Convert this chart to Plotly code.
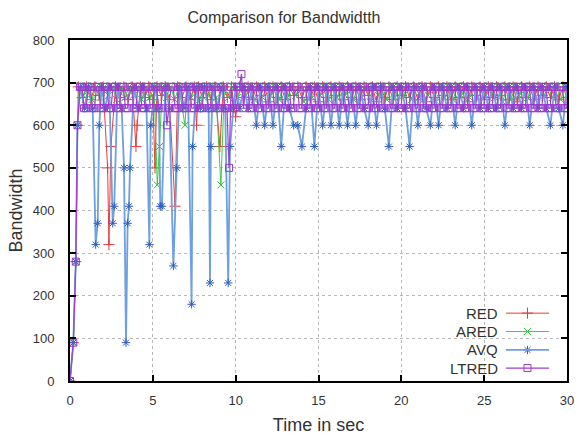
import plotly.graph_objects as go

# ---------------- data: bandwidth samples per queue discipline ----------------
# start-up phase (irregular sample times) followed by steady state on a fixed clock

RED_T_START = [0, 0.2, 0.35, 0.45, 0.5, 0.75, 1.0, 1.25, 1.5, 1.75, 2.0, 2.27, 2.35, 2.47,
               2.75, 3.0, 3.25, 3.5, 3.75, 3.98, 4.05, 4.25, 4.5, 4.75, 5.0, 5.13, 5.25,
               5.5, 5.75, 6.0, 6.34, 6.5, 6.75, 7.0, 7.25, 7.5, 7.64, 7.75, 8.0, 8.25,
               8.5, 8.75, 9.05, 9.25, 9.5, 9.75]
RED_V_START = [0, 90, 280, 600, 690, 665, 690, 660, 690, 670, 690, 500, 320, 550,
               690, 665, 690, 660, 690, 550, 600, 690, 665, 690, 660, 500, 690,
               670, 690, 660, 410, 690, 665, 690, 660, 690, 600, 690, 665, 690,
               660, 690, 550, 690, 665, 690]
RED_V_STEADY = [620, 690, 665, 690, 660, 690, 670, 690, 655, 690,
                665, 690, 660, 690, 670, 690, 665, 690, 660, 690,
                655, 690, 665, 690, 670, 690, 660, 690, 665, 690,
                660, 690, 670, 690, 655, 690, 665, 690, 660, 690,
                670, 690, 665, 690, 660, 690, 655, 690, 665, 690,
                670, 690, 660, 690, 665, 690, 655, 690, 670, 690,
                660, 690, 665, 690, 670, 690, 660, 690, 655, 690,
                665, 690, 660, 690, 670, 690, 665, 690, 660, 690,
                665]

ARED_T_START = [0, 0.2, 0.35, 0.45, 0.57, 0.82, 1.07, 1.32, 1.57, 1.82, 2.07, 2.32, 2.57,
                2.82, 3.07, 3.32, 3.57, 3.82, 4.07, 4.32, 4.57, 4.82, 5.07, 5.27, 5.4,
                5.57, 5.82, 6.07, 6.32, 6.57, 6.94, 7.07, 7.32, 7.57, 7.82, 8.07, 8.32,
                8.57, 8.82, 9.11, 9.32, 9.57, 9.82]
ARED_V_START = [0, 90, 280, 600, 690, 670, 690, 660, 690, 665, 690, 670, 690,
                660, 690, 665, 690, 670, 690, 660, 690, 665, 690, 460, 550,
                690, 665, 690, 660, 690, 600, 690, 665, 690, 660, 690, 670,
                690, 665, 460, 690, 665, 690]
ARED_V_STEADY = [665, 690, 670, 690, 660, 690, 665, 690, 670, 690,
                 660, 690, 665, 690, 670, 690, 655, 690, 665, 690,
                 670, 690, 660, 690, 665, 690, 670, 690, 660, 690,
                 665, 690, 655, 690, 670, 690, 660, 690, 665, 690,
                 670, 690, 660, 690, 665, 690, 670, 690, 655, 690,
                 665, 690, 660, 690, 670, 690, 665, 690, 660, 690,
                 670, 690, 665, 690, 655, 690, 660, 690, 670, 690,
                 665, 690, 660, 690, 670, 690, 665, 690, 660, 690,
                 670]

AVQ_T_START = [0, 0.2, 0.35, 0.45, 0.62, 0.87, 1.12, 1.37, 1.55, 1.67, 1.77, 1.9, 2.12,
               2.37, 2.58, 2.67, 2.87, 3.12, 3.26, 3.38, 3.48, 3.56, 3.62, 3.87, 4.12,
               4.37, 4.62, 4.79, 4.87, 5.12, 5.37, 5.45, 5.55, 5.75, 6.0, 6.24, 6.44,
               6.62, 6.87, 7.12, 7.34, 7.4, 7.62, 7.87, 8.12, 8.37, 8.45, 8.5, 8.62,
               8.87, 9.12, 9.37, 9.55, 9.66, 9.87]
AVQ_V_START = [0, 90, 280, 600, 690, 640, 690, 640, 320, 370, 600, 690, 640,
               690, 370, 410, 690, 640, 500, 90, 370, 410, 500, 690, 640,
               690, 640, 320, 600, 690, 640, 410, 410, 690, 640, 270, 500,
               690, 640, 690, 180, 550, 690, 640, 690, 640, 230, 550, 690,
               640, 690, 640, 230, 550, 640]
AVQ_V_STEADY = [690, 640, 690, 640, 690, 600, 690, 600, 690, 600,
                690, 550, 690, 640, 600, 600, 550, 640, 690, 550,
                690, 600, 690, 600, 690, 600, 690, 600, 690, 600,
                690, 640, 600, 690, 600, 690, 640, 550, 690, 640,
                690, 640, 550, 690, 600, 690, 640, 600, 690, 600,
                690, 640, 690, 600, 690, 640, 690, 600, 690, 640,
                690, 640, 690, 640, 690, 600, 690, 640, 690, 640,
                690, 600, 690, 640, 690, 640, 600, 690, 640, 600,
                690]

LTRED_T_START = [0, 0.2, 0.35, 0.45]
LTRED_V_START = [0, 90, 280, 600]
LTRED_V_STEADY = [
    690, 690, 640, 640, 690, 690, 640, 640, 690, 690, 640, 640, 690, 690, 640, 640,
    690, 690, 640, 640, 690, 690, 640, 640, 690, 690, 640, 640, 690, 690, 640, 640,
    690, 690, 640, 640, 690, 690, 640, 640, 690, 690, 600, 640, 690, 690, 640, 640,
    690, 690, 640, 640, 690, 690, 640, 640, 690, 690, 640, 640, 690, 690, 640, 640,
    690, 690, 640, 640, 690, 690, 640, 640, 500, 690, 640, 640, 690, 690, 720, 640,
    690, 690, 640, 640, 690, 690, 640, 640, 690, 690, 640, 640, 690, 690, 640, 640,
    690, 690, 640, 640, 690, 690, 640, 640, 690, 690, 640, 640, 690, 690, 640, 640,
    690, 690, 640, 640, 690, 690, 640, 640, 690, 690, 640, 640, 690, 690, 640, 640,
    690, 690, 640, 640, 690, 690, 640, 640, 690, 690, 640, 640, 690, 690, 640, 640,
    690, 690, 640, 640, 690, 690, 640, 640, 690, 690, 640, 640, 690, 690, 640, 640,
    690, 690, 640, 640, 690, 690, 640, 640, 690, 690, 640, 640, 690, 690, 640, 640,
    690, 690, 640, 640, 690, 690, 640, 640, 690, 690, 640, 640, 690, 690, 640, 640,
    690, 690, 640, 640, 690, 690, 640, 640, 690, 690, 640, 640, 690, 690, 640, 640,
    690, 690, 640, 640, 690, 690, 640, 640, 690, 690, 640, 640, 690, 690, 640, 640,
    690, 690, 640, 640, 690, 690, 640, 640, 690, 690, 640, 640, 690,
]

# steady-state sampling clocks (each source with its own period and phase)
RED_T_STEADY = [round(10.0 + 0.25 * k, 3) for k in range(len(RED_V_STEADY))]
ARED_T_STEADY = [round(10.12 + 0.25 * k, 3) for k in range(len(ARED_V_STEADY))]
AVQ_T_STEADY = [round(10.0 + 0.25 * k, 3) for k in range(len(AVQ_V_STEADY))]
LTRED_T_STEADY = [round(0.6 + 0.125 * k, 3) for k in range(len(LTRED_V_STEADY))]

SERIES = ["RED", "ARED", "AVQ", "LTRED"]
X_TICKS = [0, 5, 10, 15, 20, 25, 30]
Y_TICKS = [0, 100, 200, 300, 400, 500, 600, 700, 800]

data = {
    "RED": (RED_T_START + RED_T_STEADY, RED_V_START + RED_V_STEADY),
    "ARED": (ARED_T_START + ARED_T_STEADY, ARED_V_START + ARED_V_STEADY),
    "AVQ": (AVQ_T_START + AVQ_T_STEADY, AVQ_V_START + AVQ_V_STEADY),
    "LTRED": (LTRED_T_START + LTRED_T_STEADY, LTRED_V_START + LTRED_V_STEADY),
}
for name, (t, v) in data.items():
    assert len(t) == len(v), name

style = {
    "RED": dict(line="#ee3a3a", mline="#ee3a3a", symbol="cross-thin", lw=1.0, size=8),
    "ARED": dict(line="#3ccc3c", mline="#2fbf2f", symbol="x-thin", lw=1.0, size=7),
    "AVQ": dict(line="#6e9fe0", mline="#2f5fbf", symbol="asterisk", lw=1.8, size=7),
    "LTRED": dict(line="#a03fd0", mline="#9a36cc", symbol="square-open", lw=1.2, size=7),
}

FONT = "Liberation Sans, Arial, sans-serif"
TEXT_COLOR = "#333333"

fig = go.Figure()
for name in SERIES:
    t, v = data[name]
    s = style[name]
    fig.add_trace(go.Scatter(
        x=t, y=v, mode="lines+markers", name=name, showlegend=False,
        line=dict(color=s["line"], width=s["lw"]),
        marker=dict(symbol=s["symbol"], size=s["size"], color=s["mline"],
                    line=dict(color=s["mline"], width=1)),
    ))

# key in the lower right corner: label on the left, line sample on the right
KEY_X0, KEY_X1, KEY_TEXT_X = 0.877, 0.964, 0.866
KEY_ROWS = [0.199, 0.145, 0.091, 0.038]
for name, ky in zip(SERIES, KEY_ROWS):
    s = style[name]
    fig.add_shape(type="line", xref="paper", yref="paper", x0=KEY_X0, x1=KEY_X1,
                  y0=ky, y1=ky, line=dict(color=s["line"], width=s["lw"]))
    fig.add_trace(go.Scatter(
        x=[(KEY_X0 + KEY_X1) / 2], y=[ky], xaxis="x2", yaxis="y2", mode="markers",
        showlegend=False, hoverinfo="skip",
        marker=dict(symbol=s["symbol"], size=s["size"], color=s["mline"],
                    line=dict(color=s["mline"], width=1)),
    ))
    fig.add_annotation(x=KEY_TEXT_X, y=ky, xref="paper", yref="paper", text=name,
                       showarrow=False, xanchor="right", yanchor="middle",
                       font=dict(family=FONT, size=15, color=TEXT_COLOR))

axis_common = dict(
    showline=True, linecolor="black", linewidth=2, mirror="allticks",
    ticks="inside", ticklen=6, tickwidth=2, tickcolor="black",
    showgrid=True, gridcolor="#b8b8b8", griddash="dot", gridwidth=1,
    zeroline=False, automargin=False,
    tickfont=dict(family=FONT, size=13, color=TEXT_COLOR),
)

fig.update_layout(
    width=582, height=435,
    margin=dict(l=70, r=15, t=40, b=54, autoexpand=False),
    paper_bgcolor="white", plot_bgcolor="white",
    title=dict(text="Comparison for Bandwidtth", x=0.488, xref="container",
               xanchor="center", y=0.961, yref="container", yanchor="middle",
               font=dict(family=FONT, size=16, color=TEXT_COLOR)),
    xaxis=dict(range=[0, 30], tickvals=X_TICKS, ticklabelstandoff=6, **axis_common,
               title=dict(text="Time in sec", standoff=12,
                          font=dict(family=FONT, size=18, color=TEXT_COLOR))),
    yaxis=dict(range=[0, 800], tickvals=Y_TICKS, ticklabelstandoff=11, **axis_common,
               title=dict(text="Bandwidth", standoff=5,
                          font=dict(family=FONT, size=18, color=TEXT_COLOR))),
    xaxis2=dict(overlaying="x", range=[0, 1], visible=False),
    yaxis2=dict(overlaying="y", range=[0, 1], visible=False),
)

fig.write_html("out.html")
